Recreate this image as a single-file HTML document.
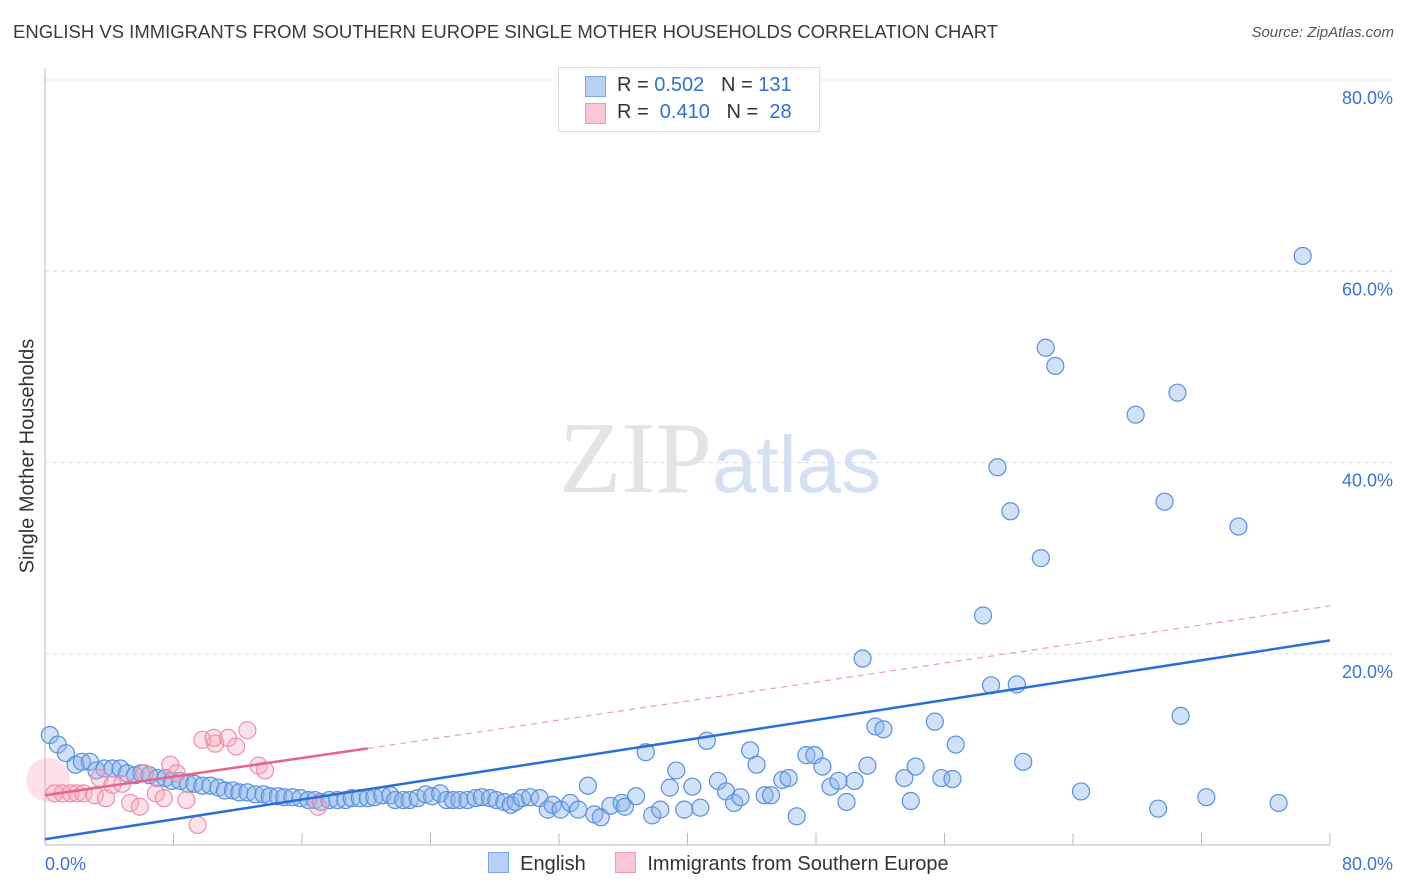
<!DOCTYPE html>
<html><head><meta charset="utf-8"><style>
body{margin:0;background:#fff;font-family:"Liberation Sans",sans-serif}
#wrap{position:relative;width:1406px;height:892px;overflow:hidden}
.t{position:absolute;white-space:nowrap}
</style></head><body>
<div id="wrap">
<div class="t" style="left:13px;top:21px;font-size:18.5px;color:#3a3a3a">ENGLISH VS IMMIGRANTS FROM SOUTHERN EUROPE SINGLE MOTHER HOUSEHOLDS CORRELATION CHART</div>
<div class="t" style="right:12px;top:24px;font-size:15px;color:#555;font-style:italic">Source: ZipAtlas.com</div>
<svg id="svg" width="1406" height="892" style="position:absolute;left:0;top:0"></svg>
</div>
<script>
const xTicks=[0,80];
const yTicks=[20,40,60,80];
const blueX=[0.3,0.8,1.3,1.9,2.3,2.8,3.2,3.7,4.2,4.7,5.1,5.6,6.0,6.5,7.0,7.5,7.9,8.4,8.9,9.3,9.8,10.3,10.8,11.2,11.7,12.1,12.6,13.1,13.6,14.0,14.5,14.9,15.4,15.9,16.4,16.8,17.2,17.7,18.2,18.7,19.1,19.6,20.1,20.5,21.0,21.5,21.8,22.3,22.7,23.2,23.7,24.1,24.6,25.0,25.4,25.8,26.3,26.8,27.2,27.7,28.1,28.6,29.0,29.3,29.7,30.2,30.8,31.3,31.6,32.1,32.7,33.2,33.8,34.2,34.6,35.2,35.9,36.1,36.8,37.4,37.8,38.3,38.9,39.3,39.8,40.3,40.8,41.2,41.9,42.4,42.9,43.3,43.9,44.3,44.8,45.2,45.9,46.3,46.8,47.4,47.9,48.4,48.9,49.4,49.9,50.4,50.9,51.2,51.7,52.2,53.5,53.9,54.2,55.4,55.8,56.5,56.7,58.4,58.9,59.3,60.1,60.5,60.9,62.0,62.3,62.9,64.5,67.9,69.3,69.7,70.5,70.7,72.3,74.3,76.8,78.3];
const blueY=[11.5,10.5,9.6,8.4,8.7,8.7,7.8,8.0,8.0,8.0,7.5,7.3,7.5,7.3,7.0,7.0,6.7,6.7,6.4,6.4,6.2,6.2,6.0,5.7,5.7,5.5,5.5,5.3,5.3,5.1,5.1,5.0,5.0,4.9,4.7,4.7,4.5,4.7,4.7,4.7,4.9,4.9,4.9,5.0,5.2,5.2,4.7,4.7,4.7,4.9,5.3,5.1,5.4,4.7,4.7,4.7,4.7,4.9,5.0,4.9,4.7,4.5,4.2,4.5,4.9,5.0,4.9,3.7,4.2,3.7,4.4,3.7,6.2,3.2,2.9,4.1,4.4,4.0,5.1,9.7,3.1,3.7,6.0,7.8,3.7,6.1,3.9,10.9,6.7,5.6,4.4,5.0,9.9,8.4,5.2,5.2,6.8,7.0,3.0,9.4,9.4,8.2,6.1,6.7,4.5,6.7,19.5,8.3,12.4,12.1,7.0,4.6,8.2,12.9,7.0,6.9,10.5,24.0,16.7,39.5,34.9,16.8,8.7,30.0,52.0,50.1,5.6,45.0,3.8,35.9,47.3,13.5,5.0,33.3,4.4,61.6];
const pinkX=[0.2,0.6,1.1,1.6,2.0,2.4,3.1,3.4,3.8,4.2,4.8,5.3,5.9,6.2,6.9,7.4,7.8,8.2,8.8,9.5,9.8,10.6,10.5,11.4,11.9,12.6,13.3,13.7,17.0];
const pinkY=[6.8,5.4,5.4,5.4,5.4,5.4,5.2,7.0,4.9,6.3,6.4,4.4,4.0,7.5,5.4,4.9,8.4,7.5,4.7,2.1,11.0,10.6,11.2,11.2,10.3,12.0,8.3,7.8,4.0];
const pinkW=[3,1,1,1,1,1,1,1,1,1,1,1,1,1,1,1,1,1,1,1,1,1,1,1,1,1,1,1,1];
const blueFit=[0.6,21.4];
const pinkFit=[5.2,10.1,25.0];

const X0=45,X1=1330,Y0=845,Y1=80;
const sx=v=>X0+(X1-X0)*v/80, sy=v=>Y0-(Y0-Y1)*v/80;
const svg=document.getElementById('svg');
function el(t,a,p){const e=document.createElementNS('http://www.w3.org/2000/svg',t);for(const k in a)e.setAttribute(k,a[k]);(p||svg).appendChild(e);return e;}
yTicks.forEach(v=>{
 const g=el('line',{x1:X0,x2:1395,y1:sy(v),y2:sy(v),stroke:'#ddd','stroke-dasharray':'4,4'});
 
 
 const t=el('text',{x:1393,y:sy(v)+24,'text-anchor':'end','font-size':18,fill:'#3b73d4','font-family':'Liberation Sans'});
 t.textContent=v.toFixed(1)+'%';
 
 
});
const ax=el('line',{x1:X0,x2:X0,y1:68,y2:Y0,stroke:'#bbb'});


const bx=el('line',{x1:X0,x2:X1,y1:Y0,y2:Y0,stroke:'#bbb'});


for(let i=1;i<=10;i++){const tk=el('line',{x1:sx(i*8),x2:sx(i*8),y1:833,y2:Y0,stroke:'#bbb'});
 
 }
xTicks.forEach((v,i)=>{const t=el('text',{x:i?1393:45,y:870,'text-anchor':i?'end':'start','font-size':18,fill:'#3b73d4','font-family':'Liberation Sans'});
 t.textContent=v.toFixed(1)+'%';
 
 });
const wm=el('text',{x:720,y:492,'text-anchor':'middle','font-size':102,'font-family':'Liberation Serif',fill:'#e4e4e4'});
wm.innerHTML='ZIP<tspan font-family="Liberation Sans" fill="#d3e1f3" font-size="80">atlas</tspan>';


blueX.forEach((x,i)=>{const c=el('circle',{cx:sx(x),cy:sy(blueY[i]),r:8.5,fill:'rgba(140,180,235,0.4)',stroke:'#5b90dc','stroke-width':1.2});
 
 });
pinkX.forEach((x,i)=>{const c=el('circle',{cx:sx(x),cy:sy(pinkY[i]),r:pinkW[i]>1?22:8.5,fill:'rgba(245,170,190,0.35)',stroke:pinkW[i]>1?'none':'#ee8fab','stroke-width':1.2});
 
 });
const bl=el('line',{x1:sx(0),y1:sy(blueFit[0]),x2:sx(80),y2:sy(blueFit[1]),stroke:'#2a6fd6','stroke-width':2.5});


const pl=el('line',{x1:sx(0),y1:sy(pinkFit[0]),x2:sx(20.1),y2:sy(pinkFit[1]),stroke:'#e8628b','stroke-width':2.5});


const pd=el('line',{x1:sx(20.1),y1:sy(pinkFit[1]),x2:sx(80),y2:sy(pinkFit[2]),stroke:'#e8a0b5','stroke-width':1.2,'stroke-dasharray':'6,5'});


</script>
<div class="t" style="left:558px;top:67px;width:260px;height:63px;border:1px solid #ddd;background:#fff;font-size:20px">
 <div style="position:absolute;left:26px;top:8px;width:19px;height:19px;background:#b7d0f3;border:1px solid #7aa6e3"></div>
 <div class="t" style="left:58px;top:6px;color:#333">R = <span style="color:#2f6fd6">0.502</span>&nbsp;&nbsp;&nbsp;N = <span style="color:#2f6fd6">131</span></div>
 <div style="position:absolute;left:26px;top:35px;width:19px;height:19px;background:#f8c6d4;border:1px solid #ee9ab4"></div>
 <div class="t" style="left:58px;top:33px;color:#333">R = &nbsp;<span style="color:#2f6fd6">0.410</span>&nbsp;&nbsp;&nbsp;N = &nbsp;<span style="color:#2f6fd6">28</span></div>
</div>
<div class="t" style="left:488px;top:852px;font-size:20px;color:#333">
 <span style="display:inline-block;width:19px;height:19px;background:#b7d0f3;border:1px solid #7aa6e3;vertical-align:-3px"></span>&nbsp; English
 <span style="display:inline-block;width:19px;height:19px;background:#f8c6d4;border:1px solid #ee9ab4;vertical-align:-3px;margin-left:24px"></span>&nbsp; Immigrants from Southern Europe
</div>
<div class="t" style="left:28px;top:456px;transform:translate(-50%,-50%) rotate(-90deg);font-size:20px;color:#333">Single Mother Households</div>
</body></html>
